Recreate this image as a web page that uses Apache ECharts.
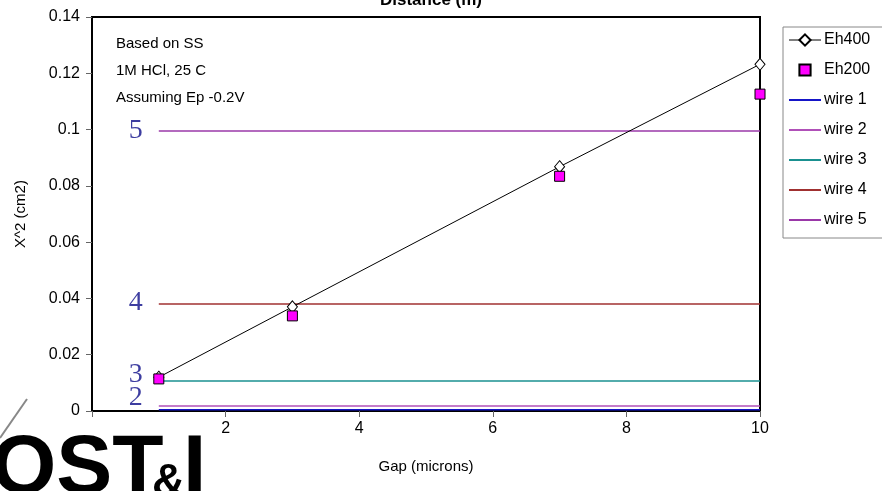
<!DOCTYPE html>
<html>
<head>
<meta charset="utf-8">
<script src="https://cdn.jsdelivr.net/npm/echarts@6/dist/echarts.min.js"></script>
<style>
  html, body { margin: 0; padding: 0; background: #fff; }
  #chart { width: 882px; height: 491px; }
</style>
</head>
<body>
<div id="chart"></div>
<script>
// Gap between electrodes (microns) and measured X^2 (cm2)
const gaps = [1, 3, 7, 10];
const eh400 = [0.0120, 0.0370, 0.0868, 0.1232];
const eh200 = [0.0114, 0.0338, 0.0834, 0.1126];

// Wire reference levels (cm2), drawn across the gap range
const wireNames = ['wire 1', 'wire 2', 'wire 3', 'wire 4', 'wire 5'];
const wireLevels = [0.0004, 0.0018, 0.0107, 0.0380, 0.0995];
const wireSpan = [1, 10];
const wireTagText = ['', '2', '3', '4', '5'];

const xTicks = { min: 0, max: 10, interval: 2 };
const yTicks = { min: 0, max: 0.14, interval: 0.02 };

const wireColors = ['#1515c8', '#b050b8', '#1a9090', '#a03030', '#9a38a8'];
const tagOffsets = [[0, 0], [0, -8], [0, -6], [0, -1], [0, 0]];
const FONT = 'Arial, "Liberation Sans", sans-serif';
const LOGO_FONT = '"Liberation Sans", Arial, sans-serif';

const chart = echarts.init(document.getElementById('chart'));

const series = [
  {
    name: 'Eh400',
    type: 'line',
    data: gaps.map((g, i) => [g, eh400[i]]),
    symbol: 'diamond',
    symbolSize: [10, 12],
    showAllSymbol: true,
    lineStyle: { color: '#000', width: 1 },
    itemStyle: { color: '#fff', borderColor: '#000', borderWidth: 1 },
    z: 5
  },
  {
    // markers only: the connecting line is hidden
    name: 'Eh200',
    type: 'line',
    data: gaps.map((g, i) => [g, eh200[i]]),
    symbol: 'rect',
    symbolSize: 10,
    showAllSymbol: true,
    lineStyle: { width: 0, opacity: 0 },
    itemStyle: { color: '#ff00ff', borderColor: '#000', borderWidth: 1 },
    z: 6
  }
];

wireNames.forEach((name, i) => {
  series.push({
    name: name,
    type: 'line',
    data: wireSpan.map(x => [x, wireLevels[i]]),
    symbol: 'none',
    lineStyle: { color: wireColors[i], width: 1.5 },
    itemStyle: { color: wireColors[i] },
    z: 3
  });
});

// Numbered tags next to each wire level
series.push({
  name: 'tags',
  type: 'scatter',
  symbolSize: 0,
  silent: true,
  data: wireLevels.map((v, i) => ({
    value: [wireSpan[0], v],
    label: { offset: tagOffsets[i] }
  })),
  label: {
    show: true,
    position: 'left',
    distance: 16,
    formatter: p => wireTagText[p.dataIndex],
    fontFamily: '"Liberation Serif", "DejaVu Serif", serif',
    fontSize: 28,
    color: '#0c0c88'
  },
  z: 4
});

const legendData = [
  { name: 'Eh400', lineStyle: { width: 1 } },
  { name: 'Eh200' }
].concat(wireNames.map(n => ({ name: n, itemStyle: { opacity: 0 } })));

chart.setOption({
  animation: false,
  backgroundColor: '#fff',
  textStyle: { fontFamily: FONT },
  title: {
    text: 'Distance (m)',
    left: 426,
    textAlign: 'center',
    top: -13,
    textStyle: { fontSize: 17, fontWeight: 'bold', color: '#000', fontFamily: FONT }
  },
  grid: {
    left: 92, right: 122, top: 17, bottom: 80,
    show: true, borderColor: '#000', borderWidth: 2, backgroundColor: 'transparent'
  },
  legend: {
    orient: 'vertical',
    left: 783,
    top: 27,
    itemGap: 14,
    itemWidth: 32,
    itemHeight: 14,
    padding: [5, 30, 10, 5],
    borderColor: '#888',
    borderWidth: 1,
    data: legendData,
    textStyle: { fontSize: 16, color: '#000', padding: [0, 0, 0, -2] }
  },
  xAxis: {
    type: 'value',
    min: xTicks.min, max: xTicks.max, interval: xTicks.interval,
    name: 'Gap (microns)',
    nameLocation: 'middle',
    nameGap: 48,
    nameTextStyle: { fontSize: 15, color: '#000' },
    axisLine: { lineStyle: { color: '#000', width: 2 } },
    axisTick: { show: true, length: 6, lineStyle: { color: '#666' } },
    axisLabel: { fontSize: 16, color: '#000', margin: 10 },
    splitLine: { show: false }
  },
  yAxis: {
    type: 'value',
    min: yTicks.min, max: yTicks.max, interval: yTicks.interval,
    name: 'X^2 (cm2)',
    nameLocation: 'middle',
    nameGap: 64,
    nameTextStyle: { fontSize: 15, color: '#000' },
    axisLine: { show: true, lineStyle: { color: '#000', width: 2 } },
    axisTick: { show: true, length: 6, lineStyle: { color: '#666' } },
    axisLabel: { fontSize: 16, color: '#000', margin: 12 },
    splitLine: { show: false }
  },
  graphic: [
    { type: 'text', x: 116, y: 36, style: { text: 'Based on SS', fontSize: 15, fill: '#000', fontFamily: FONT } },
    { type: 'text', x: 116, y: 63, style: { text: '1M HCl, 25 C', fontSize: 15, fill: '#000', fontFamily: FONT } },
    { type: 'text', x: 116, y: 90, style: { text: 'Assuming Ep -0.2V', fontSize: 15, fill: '#000', fontFamily: FONT } },
    // Organisation logo in the lower-left corner
    { type: 'rect', z: 100, shape: { x: 0, y: 420, width: 208, height: 71 }, style: { fill: '#fff' } },
    { type: 'line', z: 101, shape: { x1: 0, y1: 438, x2: 27, y2: 399 }, style: { stroke: '#888', lineWidth: 2 } },
    { type: 'text', z: 101, x: -9, y: 428, style: { text: 'OST', fontSize: 84, fontWeight: 'bold', fill: '#000', fontFamily: LOGO_FONT } },
    { type: 'text', z: 101, x: 152, y: 460, style: { text: '&', fontSize: 46, fontWeight: 'bold', fill: '#000', fontFamily: LOGO_FONT } },
    { type: 'text', z: 101, x: 183, y: 428, style: { text: 'I', fontSize: 84, fontWeight: 'bold', fill: '#000', fontFamily: LOGO_FONT } }
  ],
  series: series
});
</script>
</body>
</html>
